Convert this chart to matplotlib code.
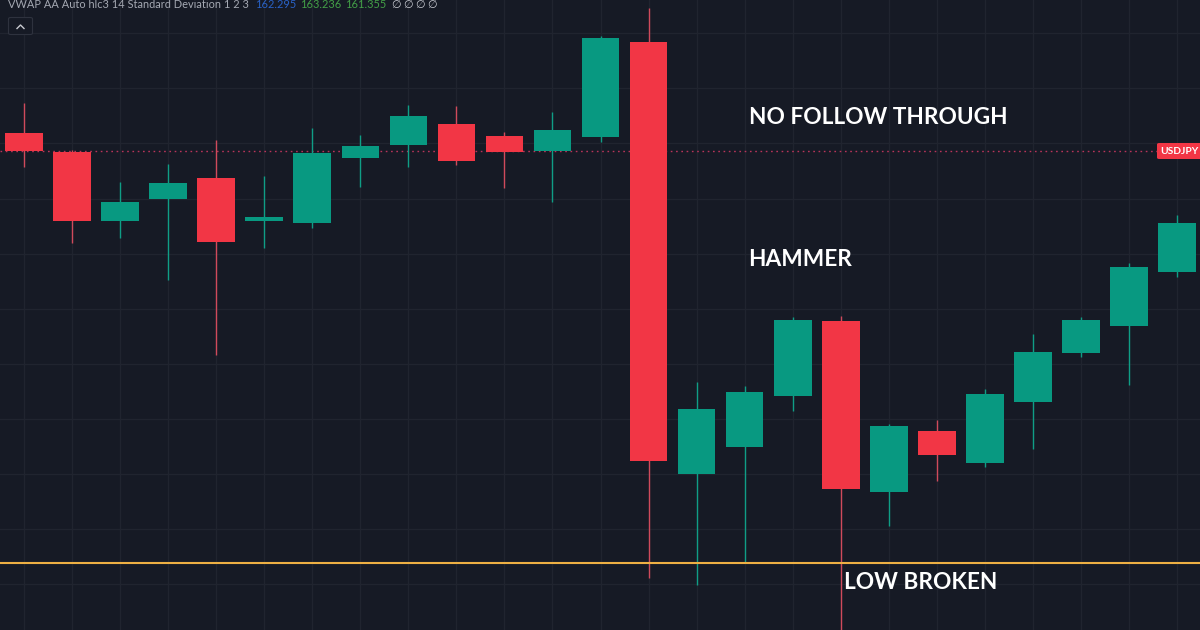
import matplotlib
matplotlib.use('Agg')
import matplotlib.pyplot as plt
from matplotlib.patches import FancyBboxPatch

# candles, oldest first
opens = [161.619, 161.585, 161.459, 161.499, 161.537, 161.460, 161.456, 161.574, 161.597,
         161.635, 161.613, 161.587, 161.611, 161.784, 161.000, 161.050, 161.142, 161.278,
         160.968, 161.078, 161.021, 161.131, 161.220, 161.269, 161.366]
highs = [161.674, 161.588, 161.530, 161.562, 161.606, 161.541, 161.628, 161.616, 161.670,
         161.668, 161.621, 161.657, 161.795, 161.845, 161.168, 161.160, 161.285, 161.287,
         161.091, 161.098, 161.154, 161.254, 161.286, 161.384, 161.470]
lows = [161.558, 161.420, 161.428, 161.352, 161.217, 161.411, 161.447, 161.521, 161.558,
        161.561, 161.519, 161.493, 161.603, 160.812, 160.799, 160.841, 161.115, 160.699,
        160.905, 160.988, 161.012, 161.045, 161.213, 161.162, 161.358]
closes = [161.587, 161.459, 161.494, 161.528, 161.422, 161.466, 161.582, 161.595, 161.649,
          161.568, 161.584, 161.624, 161.791, 161.024, 161.118, 161.149, 161.279, 160.973,
          161.087, 161.035, 161.145, 161.222, 161.280, 161.376, 161.456]

price_ticks = [161.8, 161.7, 161.6, 161.5, 161.4, 161.3, 161.2, 161.1, 161.0, 160.9, 160.8]
last_price = 161.586
low_level = 160.839

legend_title = 'VWAP AA Auto hlc3 14 Standard Deviation 1 2 3'
legend_values = ['162.295', '163.236', '161.355']

BG = '#161a25'
GRID = '#20242f'
RED = '#f23645'
GREEN = '#089981'
RED_WICK = '#d04a5c'
GREEN_WICK = '#0f9e86'
LABEL_FONT = ['Lato', 'DejaVu Sans']


def put_text(x, y, s, **kw):
    # position in pixels from the top left
    return fig.text(x / 1200, 1 - y / 630, s, va='center', ha='left', **kw)


fig = plt.figure(figsize=(12, 6.3), dpi=100, facecolor=BG)
ax = fig.add_axes([0, 0, 1, 1], facecolor=BG)

xs = list(range(len(opens)))
for x, o, h, l, c in zip(xs, opens, highs, lows, closes):
    up = c >= o
    ax.vlines(x, l, h, color=GREEN_WICK if up else RED_WICK, lw=1.0, zorder=3)
    ax.bar(x, abs(c - o), bottom=min(o, c), width=0.785,
           color=GREEN if up else RED, linewidth=0, zorder=4)

ax.axhline(last_price, color='#b8345a', lw=1.0, linestyle=(0, (1.2, 2.6)), zorder=2)
ax.axhline(low_level, color='#eeb044', lw=1.5, zorder=5)

ax.set_xlim(-0.502, 24.48)
ax.set_ylim(160.7171, 161.8604)
ax.set_xticks(xs)
ax.set_yticks(price_ticks)
ax.tick_params(left=False, bottom=False, labelleft=False, labelbottom=False)
ax.grid(True, color=GRID, lw=1)
ax.set_axisbelow(True)
for s in ax.spines.values():
    s.set_visible(False)

# annotations
ann = dict(color='white', fontsize=16.3, fontweight='bold', family=LABEL_FONT, zorder=10)
put_text(749, 117.5, 'NO FOLLOW THROUGH', **ann)
put_text(748, 259.5, 'HAMMER', **ann)
put_text(844, 582.5, 'LOW BROKEN', **ann)

# indicator legend row, clipped by the top edge like the screenshot
small = dict(fontsize=7.95, family=LABEL_FONT)
put_text(8, 4, legend_title, color='#a5a9b3', **small)
put_text(255, 4, legend_values[0], color='#2962c8', **small)
put_text(300, 4, legend_values[1], color='#43a047', **small)
put_text(345, 4, legend_values[2], color='#43a047', **small)
for px in (391, 403, 415, 427):
    put_text(px, 4, '\u2205', color='#c4c7ce', **small)

# collapse button
fig.add_artist(FancyBboxPatch((8.5 / 1200, 1 - 34.5 / 630), 24 / 1200, 17 / 630,
                              boxstyle='round,pad=0,rounding_size=0.002',
                              transform=fig.transFigure, fc=BG, ec='#2e323e', lw=0.8))
fig.add_artist(plt.Line2D([17 / 1200, 20.5 / 1200, 24 / 1200],
                          [1 - 28.5 / 630, 1 - 25 / 630, 1 - 28.5 / 630],
                          transform=fig.transFigure, color='#c8cad0', lw=1))

# symbol tag on the right edge
fig.add_artist(FancyBboxPatch((1157 / 1200, 1 - 159 / 630), 50 / 1200, 16 / 630,
                              boxstyle='round,pad=0,rounding_size=0.002',
                              transform=fig.transFigure, fc=RED, ec='none', zorder=6))
put_text(1160.5, 151.5, 'USDJPY', color='white', fontsize=7.4, fontweight='bold',
         family=LABEL_FONT, zorder=7)

fig.savefig('out.png', dpi=100, facecolor=BG)
